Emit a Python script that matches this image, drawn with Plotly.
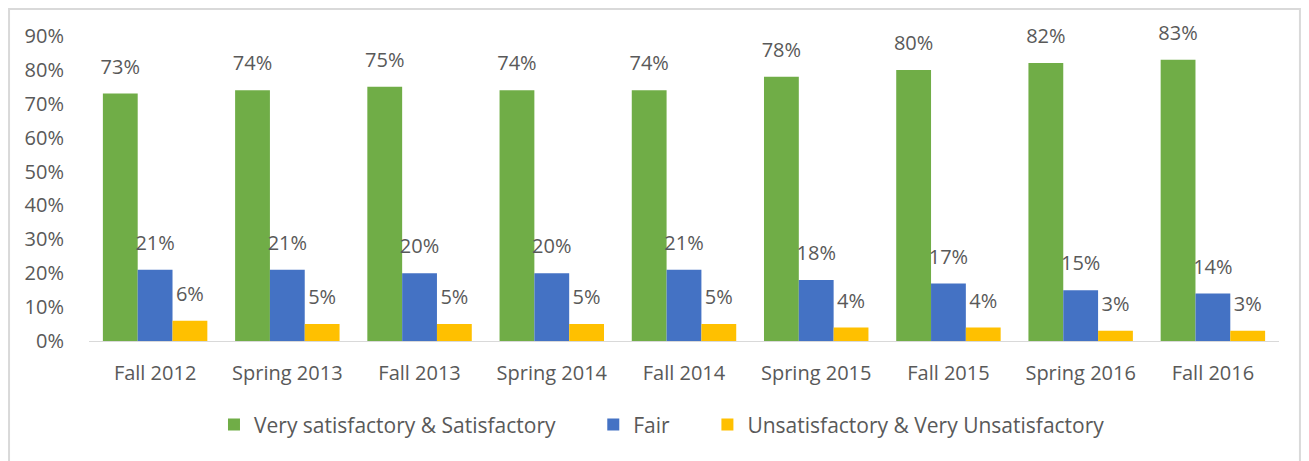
import plotly.graph_objects as go

# semestres e percentuais
semestres = ['Fall 2012', 'Spring 2013', 'Fall 2013', 'Spring 2014', 'Fall 2014',
             'Spring 2015', 'Fall 2015', 'Spring 2016', 'Fall 2016']
satisfeito = [73, 74, 75, 74, 74, 78, 80, 82, 83]
regular = [21, 21, 20, 20, 21, 18, 17, 15, 14]
insatisfeito = [6, 5, 5, 5, 5, 4, 4, 3, 3]

series = [
    ('Very satisfactory & Satisfactory', satisfeito, '#70AD47'),
    ('Fair', regular, '#4472C4'),
    ('Unsatisfactory & Very Unsatisfactory', insatisfeito, '#FFC000'),
]

fonte = 'Open Sans'
cinza = '#595959'
espaco = '\u00a0' * 6  # afasta os itens da legenda

fig = go.Figure()
for i, (nome, valores, cor) in enumerate(series):
    fig.add_trace(go.Bar(
        x=semestres,
        y=valores,
        name=nome + (espaco if i < 2 else ''),
        marker={'color': cor, 'line': {'width': 0}},
        offsetgroup=str(i),
    ))
    # rótulos num scatter agrupado, com marcador invisível pra dar folga acima da barra
    fig.add_trace(go.Scatter(
        x=semestres,
        y=valores,
        mode='markers+text',
        marker={'size': 22, 'opacity': 0},
        text=[f'{v}%' for v in valores],
        textposition='top center',
        textfont={'family': fonte, 'size': 20, 'color': cinza},
        offsetgroup=str(i),
        showlegend=False,
        hoverinfo='skip',
        cliponaxis=False,
    ))

# moldura cinza em volta do gráfico (a borda de baixo fica fora da imagem)
fig.add_shape(type='rect', xref='paper', yref='paper',
              x0=-0.0672, x1=1.0176, y0=-0.45, y1=1.0885,
              line={'color': '#D9D9D9', 'width': 2}, fillcolor='rgba(0,0,0,0)', layer='below')

# a página tem 8px de margem no body, por isso a figura é um pouco menor
fig.update_layout(
    width=1301,
    height=453,
    margin={'l': 81, 'r': 30, 't': 28, 'b': 120, 'autoexpand': False},
    paper_bgcolor='white',
    plot_bgcolor='white',
    barmode='group',
    bargap=0.21,
    bargroupgap=0,
    scattermode='group',
    scattergap=0.21,
    font={'family': fonte, 'color': cinza},
    showlegend=True,
    legend={'orientation': 'h', 'x': 0.4815, 'xanchor': 'center',
            'y': -0.275, 'yanchor': 'middle',
            'font': {'family': fonte, 'size': 21, 'color': cinza},
            'itemwidth': 30, 'traceorder': 'normal'},
    xaxis={'showline': True, 'linecolor': '#D9D9D9', 'linewidth': 1, 'automargin': False,
           'showgrid': False, 'ticks': 'outside', 'ticklen': 14, 'tickcolor': 'white',
           'tickfont': {'family': fonte, 'size': 20, 'color': cinza}},
    yaxis={'range': [0, 90], 'dtick': 10, 'ticksuffix': '%', 'showgrid': False,
           'zeroline': False, 'ticks': 'outside', 'ticklen': 20, 'tickcolor': 'white',
           'automargin': False,
           'tickfont': {'family': fonte, 'size': 20, 'color': cinza}},
)

fig.write_html('out.html')
